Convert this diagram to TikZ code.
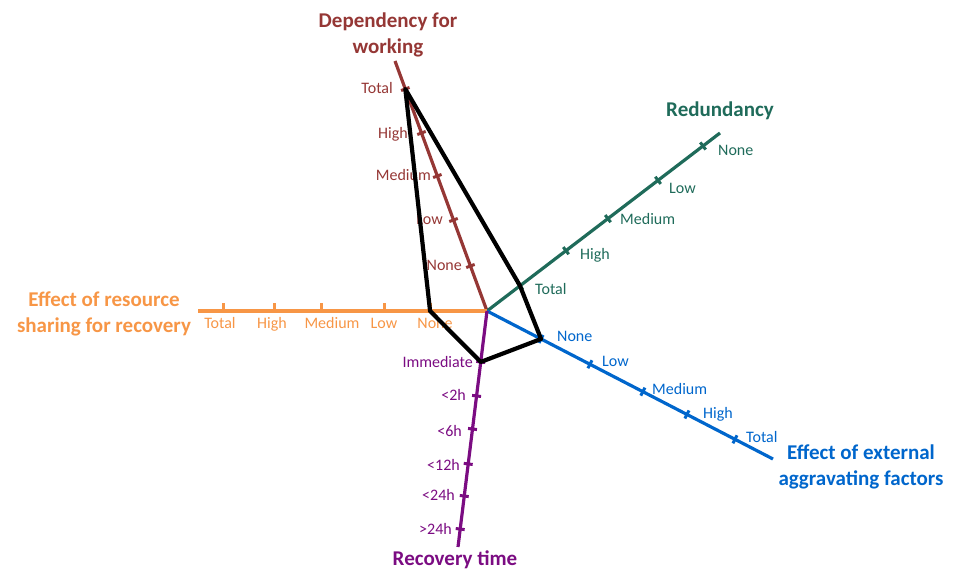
\documentclass[tikz,border=0pt]{standalone}
\usepackage{fontspec}
\setmainfont{Carlito}
\usetikzlibrary{calc}
\definecolor{depc}{HTML}{953735}
\definecolor{redc}{HTML}{1F6B5A}
\definecolor{resc}{HTML}{F79646}
\definecolor{extc}{HTML}{0066CC}
\definecolor{recc}{HTML}{7B0C82}
\begin{document}
\begin{tikzpicture}[x=1pt,y=-1pt,
  axis/.style={line width=3.2pt},
  tickmark/.style={line width=3pt},
  lbl/.style={font=\fontsize{16}{19}\selectfont, inner sep=0pt, text height=10.3pt, text depth=0pt},
  ttl/.style={font=\fontsize{21}{26}\selectfont\bfseries, align=center, inner sep=0pt},
  profile/.style={line width=4.2pt, line join=round}
]
\useasboundingbox (0,0) rectangle (954,572);

% centre and axis ends
\coordinate (O) at (487,311);
\coordinate (depEnd) at (395,61);
\coordinate (redEnd) at (720,133);
\coordinate (resEnd) at (198,311);
\coordinate (extEnd) at (773,459);
\coordinate (recEnd) at (458,547);

% axes
\draw[axis,depc] (O) -- (depEnd);
\draw[axis,redc] (O) -- (redEnd);
\draw[axis,resc] (O) -- (resEnd);
\draw[axis,extc] (O) -- (extEnd);
\draw[axis,recc] (O) -- (recEnd);

% dependency for working
\foreach \k/\f/\lx/\ly in {Total/0.888/393/88, High/0.712/408/133, Medium/0.54/431/175, Low/0.364/443/219, None/0.18/462/265}{
  \coordinate (dep\k) at ($(O)!\f!(depEnd)$);
  \draw[tickmark,depc] ($(dep\k)!4.5pt!90:(O)$) -- ($(dep\k)!4.5pt!-90:(O)$);
  \node[lbl,depc,anchor=east] (depL\k) at (\lx,\ly) {\k};
}

% redundancy
\foreach \k/\f/\lx/\ly in {Total/0.1416/535/289, High/0.339/580/254, Medium/0.519/620/219, Low/0.734/669/188, None/0.927/718/150}{
  \coordinate (red\k) at ($(O)!\f!(redEnd)$);
  \draw[tickmark,redc] ($(red\k)!4.5pt!90:(O)$) -- ($(red\k)!4.5pt!-90:(O)$);
  \node[lbl,redc,anchor=west] (redL\k) at (\lx,\ly) {\k};
}

% resource sharing for recovery
\foreach \k/\f/\lx in {None/0.197/435, Low/0.356/384, Medium/0.571/332, High/0.737/272, Total/0.913/220}{
  \coordinate (res\k) at ($(O)!\f!(resEnd)$);
  \draw[tickmark,resc] (res\k) -- ++(0,-7.5);
  \node[lbl,resc] (resL\k) at (\lx,323) {\k};
}

% external aggravating factors
\foreach \k/\f/\lx/\ly in {None/0.189/557/336, Low/0.36/602/361, Medium/0.545/652/389, High/0.699/703/413, Total/0.867/746/437}{
  \coordinate (ext\k) at ($(O)!\f!(extEnd)$);
  \draw[tickmark,extc] ($(ext\k)!4.5pt!90:(O)$) -- ($(ext\k)!4.5pt!-90:(O)$);
  \node[lbl,extc,anchor=west] (extL\k) at (\lx,\ly) {\k};
}

% recovery time
\foreach \k/\f/\t/\lx/\ly in {1/0.216/Immediate/473/362, 2/0.36/<2h/466/395, 3/0.5/<6h/462/431, 4/0.648/<12h/460/465, 5/0.784/<24h/455/495, 6/0.924/>24h/452/529}{
  \coordinate (rec\k) at ($(O)!\f!(recEnd)$);
  \draw[tickmark,recc] ($(rec\k)!4.5pt!90:(O)$) -- ($(rec\k)!4.5pt!-90:(O)$);
  \node[lbl,recc,anchor=east] (recL\k) at (\lx,\ly) {\t};
}

% axis titles
\node[ttl,depc] (depT) at (388,35) {Dependency for\\working};
\node[ttl,redc] (redT) at (720,111) {Redundancy};
\node[ttl,resc] (resT) at (104,314) {Effect of resource\\sharing for recovery};
\node[ttl,extc] (extT) at (861,467) {Effect of external\\aggravating factors};
\node[ttl,recc] (recT) at (455,560) {Recovery time};

% profile
\draw[profile] (depTotal) -- (redTotal) -- (extNone) -- (rec1) -- (resNone) -- cycle;
\end{tikzpicture}
\end{document}
